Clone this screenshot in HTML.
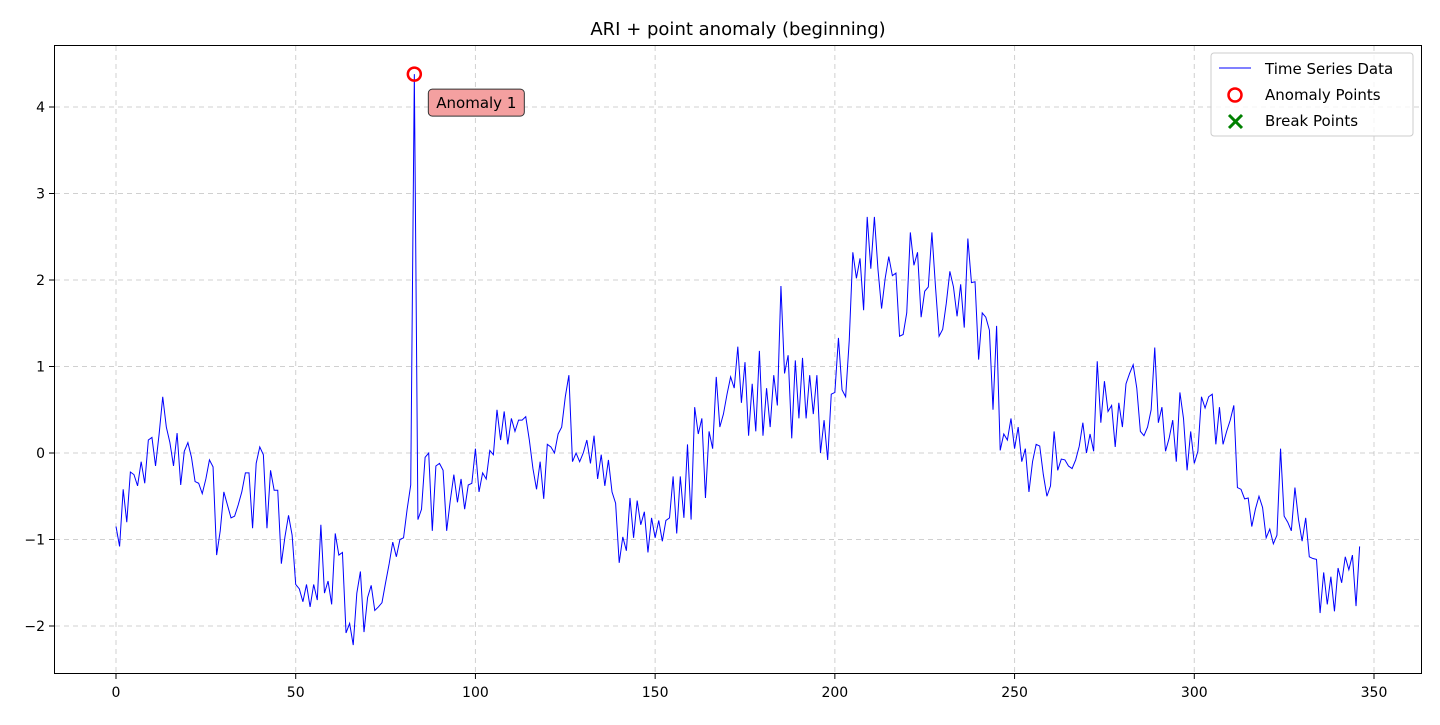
<!DOCTYPE html>
<html><head><meta charset="utf-8"><style>
body{margin:0;background:#fff;}
svg text{font-family:"DejaVu Sans","Liberation Sans",sans-serif;}
</style></head><body>
<svg id="chart" width="1440" height="720" xmlns="http://www.w3.org/2000/svg">
<text x="738" y="35" font-size="18" text-anchor="middle">ARI + point anomaly (beginning)</text>
<g id="grid"></g>
<g id="axes"></g>
<polyline id="series" fill="none" stroke="#0000ff" stroke-width="1"/>
<g id="anoms"></g>
<rect x="54.5" y="45.5" width="1367" height="628" fill="none" stroke="#000" stroke-width="1"/>
<g>
<rect x="1211" y="53" width="202" height="83" rx="3" fill="#fff" fill-opacity="0.8" stroke="#ccc"/>
<line x1="1219" y1="68" x2="1251" y2="68" stroke="#0000ff" stroke-width="1"/>
<text x="1265" y="74" font-size="15">Time Series Data</text>
<circle cx="1235" cy="95" r="6.5" fill="none" stroke="#ff0000" stroke-width="2.5"/>
<text x="1265" y="100" font-size="15">Anomaly Points</text>
<g stroke="#008000" stroke-width="3"><line x1="1229" y1="115" x2="1242" y2="128"/><line x1="1242" y1="115" x2="1229" y2="128"/></g>
<text x="1265" y="126" font-size="15">Break Points</text>
</g>
</svg>
<script>
const values=[-0.85,-1.08,-0.42,-0.8,-0.22,-0.25,-0.38,-0.1,-0.35,0.15,0.18,-0.15,0.22,0.65,0.3,0.12,-0.15,0.23,-0.37,0.02,0.12,-0.05,-0.33,-0.35,-0.47,-0.3,-0.08,-0.16,-1.18,-0.9,-0.45,-0.6,-0.75,-0.73,-0.6,-0.45,-0.23,-0.23,-0.87,-0.12,0.07,-0.02,-0.87,-0.2,-0.43,-0.43,-1.28,-0.97,-0.72,-0.95,-1.52,-1.57,-1.72,-1.52,-1.78,-1.52,-1.7,-0.83,-1.62,-1.48,-1.75,-0.93,-1.18,-1.15,-2.08,-1.97,-2.22,-1.62,-1.37,-2.07,-1.67,-1.53,-1.82,-1.78,-1.73,-1.5,-1.28,-1.03,-1.2,-1.0,-0.98,-0.65,-0.37,4.38,-0.77,-0.65,-0.05,0.0,-0.9,-0.15,-0.12,-0.2,-0.9,-0.55,-0.25,-0.57,-0.3,-0.65,-0.37,-0.35,0.05,-0.45,-0.23,-0.3,0.03,-0.02,0.5,0.15,0.48,0.1,0.4,0.25,0.38,0.38,0.42,0.15,-0.18,-0.42,-0.1,-0.53,0.1,0.07,0.0,0.22,0.3,0.65,0.9,-0.1,0.0,-0.1,0.0,0.15,-0.12,0.2,-0.3,-0.02,-0.38,-0.08,-0.45,-0.58,-1.27,-0.97,-1.13,-0.52,-0.98,-0.55,-0.83,-0.68,-1.15,-0.75,-0.98,-0.78,-1.02,-0.78,-0.75,-0.27,-0.93,-0.27,-0.75,0.1,-0.77,0.53,0.22,0.4,-0.52,0.25,0.05,0.88,0.3,0.45,0.68,0.88,0.75,1.23,0.58,1.05,0.2,0.8,0.25,1.18,0.2,0.75,0.3,0.9,0.55,1.93,0.92,1.13,0.17,1.07,0.4,1.1,0.4,0.9,0.45,0.9,0.0,0.38,-0.08,0.68,0.7,1.33,0.73,0.65,1.3,2.32,2.02,2.25,1.65,2.73,2.13,2.73,2.12,1.67,2.02,2.27,2.05,2.08,1.35,1.37,1.62,2.55,2.17,2.32,1.57,1.87,1.92,2.55,1.92,1.35,1.43,1.73,2.1,1.92,1.58,1.95,1.45,2.48,1.97,1.98,1.08,1.62,1.57,1.42,0.5,1.47,0.03,0.22,0.15,0.4,0.05,0.3,-0.1,0.05,-0.45,-0.1,0.1,0.08,-0.25,-0.5,-0.38,0.25,-0.2,-0.07,-0.08,-0.15,-0.18,-0.08,0.08,0.35,0.0,0.22,0.02,1.06,0.35,0.83,0.48,0.55,0.07,0.58,0.3,0.8,0.92,1.02,0.75,0.25,0.2,0.3,0.5,1.22,0.35,0.53,0.02,0.17,0.38,-0.1,0.7,0.4,-0.2,0.25,-0.12,0.02,0.65,0.52,0.65,0.68,0.1,0.53,0.1,0.25,0.38,0.55,-0.4,-0.42,-0.53,-0.52,-0.85,-0.65,-0.5,-0.63,-0.98,-0.88,-1.05,-0.95,0.05,-0.73,-0.8,-0.9,-0.4,-0.77,-1.02,-0.75,-1.2,-1.22,-1.23,-1.85,-1.38,-1.75,-1.43,-1.83,-1.33,-1.5,-1.2,-1.35,-1.18,-1.77,-1.08];
const anomalyIdx=[83];
const anomalyLabels=["Anomaly 1"];
const xTicks=[0,50,100,150,200,250,300,350];
const yTicks=[-2,-1,0,1,2,3,4];
const X=v=>116+v*(1374-116)/350;
const Y=v=>453-v*86.5;
const ns="http://www.w3.org/2000/svg";
function mk(tag,attrs,parent){const e=document.createElementNS(ns,tag);for(const k in attrs)e.setAttribute(k,attrs[k]);parent.appendChild(e);return e;}
const grid=document.getElementById('grid'),axes=document.getElementById('axes');
xTicks.forEach(t=>{
  const l=mk('line',{x1:X(t),x2:X(t),y1:46,y2:673,stroke:'#b0b0b0','stroke-dasharray':'5,4','stroke-opacity':0.6},grid);
  
  
  const k=mk('line',{x1:X(t),x2:X(t),y1:674,y2:679,stroke:'#000'},axes);
  
  
  const tx=mk('text',{x:X(t),y:697,'font-size':14,'text-anchor':'middle'},axes);tx.textContent=t;
  
  
});
yTicks.forEach(t=>{
  const l=mk('line',{x1:55,x2:1421,y1:Y(t),y2:Y(t),stroke:'#b0b0b0','stroke-dasharray':'5,4','stroke-opacity':0.6},grid);
  
  
  const k=mk('line',{x1:49,x2:54,y1:Y(t),y2:Y(t),stroke:'#000'},axes);
  
  
  const tx=mk('text',{x:45,y:Y(t)+5,'font-size':14,'text-anchor':'end'},axes);tx.textContent=(t<0?'\u2212'+(-t):t);
  
  
});
document.getElementById('series').setAttribute('points',values.map((v,i)=>X(i).toFixed(2)+','+Y(v).toFixed(2)).join(' '));
const an=document.getElementById('anoms');
anomalyIdx.forEach((i,j)=>{
  const c=mk('circle',{cx:X(i),cy:Y(values[i]),r:6.5,fill:'none',stroke:'#ff0000','stroke-width':2.5},an);
  
  
  const bx=X(i)+14,by=Y(values[i])+15;
  const r=mk('rect',{x:bx,y:by,width:96,height:27,rx:4,fill:'#f4a0a0',stroke:'#333','stroke-width':1},an);
  
  
  const t=mk('text',{x:bx+48,y:by+19,'font-size':15,'text-anchor':'middle'},an);t.textContent=anomalyLabels[j];
  
  
});
</script>
</body></html>
